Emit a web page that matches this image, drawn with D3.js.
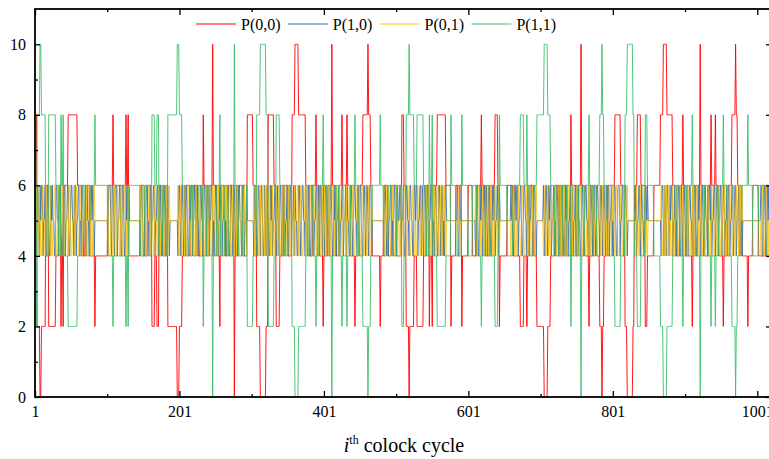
<!DOCTYPE html>
<html lang="en">
<head>
  <meta charset="UTF-8" />
  <title>P(x,y) per clock cycle</title>
  <script src="https://d3js.org/d3.v7.min.js"></script>
  <style>
    body { margin: 0; background: #fff; }
    svg { display: block; }
    svg text { font-family: "Liberation Serif", "Times New Roman", Tinos, "DejaVu Serif", serif !important; }
    .line { fill: none; stroke-width: 1px; }
    .tick line { stroke: #000; stroke-width: 1.3px; }
    .tick text { font-size: 16px; fill: #000; }
  </style>
</head>
<body>

<svg width="769" height="459"></svg>

<script>
  // ---- data ----
  const seriesNames = ["P(0,0)", "P(1,0)", "P(0,1)", "P(1,1)"];
  const seriesColors = ["#ff0000", "#3a6ea6", "#ffc000", "#3ebf6c"];

  // P(0,0) as [value, run length] per clock cycle
  const p00Runs = [
    [8,3],[2,4],[0,2],[2,6],[6,4],[2,10],[4,4],[6,3],[2,1],[4,2],[2,1],[6,6],[8,13],[6,6],[4,5],[6,6],[4,7],[2,1],[4,17],[6,7],[8,1],[6,17],[8,1],[6,2],[8,1],[4,16],[6,6],[4,4],[6,6],[2,4],[4,3],[2,3],[6,5],[4,4],[6,3],[2,13],[0,3],[2,4],
    [4,5],[6,6],[4,4],[6,7],[4,7],[8,1],[6,4],[4,4],[6,4],[10,1],[6,5],[4,4],[2,1],[6,6],[4,5],[6,8],[0,1],[4,5],[6,6],[4,6],[8,8],[6,5],[2,5],[0,8],[2,3],[8,8],[6,3],[2,5],
    [4,6],[6,5],[4,6],[8,4],[10,5],[8,10],[6,5],[4,5],[6,4],[8,1],[6,4],[4,5],[2,1],[4,5],[6,6],[10,1],[6,5],[4,4],[6,4],[8,1],[6,6],[8,1],[6,4],[4,6],[2,1],[4,4],[6,6],[8,7],[10,1],[8,3],[6,2],[4,11],[2,1],
    [4,4],[6,6],[4,5],[6,7],[4,7],[8,3],[6,3],[2,4],[0,1],[2,6],[4,4],[2,9],[4,4],[6,4],[2,1],[4,3],[2,1],[6,6],[8,12],[6,7],[2,1],[4,6],[6,8],[2,1],[4,8],[6,6],[4,6],[6,6],[8,1],[6,5],[4,6],[6,7],[8,4],[6,2],[2,1],
    [4,10],[6,8],[4,10],[2,5],[4,4],[2,1],[4,3],[6,6],[4,4],[2,10],[0,5],[2,4],[4,6],[6,6],[4,5],[6,5],[4,6],[8,1],[6,6],[4,4],[6,3],[10,1],[6,4],[4,6],[2,1],[4,5],[6,5],[4,4],[2,3],[0,1],[2,2],[4,5],[6,10],
    [8,8],[6,6],[2,3],[0,8],[2,2],[6,4],[8,5],[6,6],[2,3],[4,9],[6,9],[8,4],[10,5],[8,8],[6,5],[4,5],[6,4],[8,1],[6,4],[4,8],[2,1],[4,4],[6,6],[10,1],[6,5],[4,5],[6,4],[8,1],[6,5],[8,1],[6,4],[4,6],[2,1],[4,5],[6,6],[8,5],[10,1],[8,2],[6,6],[4,8],[2,1],[4,6],[6,8],[4,10],[6,6],[4,4],[6,2]
  ];

  // P(1,1) as [value, run length]
  const p11Runs = [
    [2,3],[8,4],[10,2],[8,6],[4,4],[8,10],[6,4],[4,3],[8,1],[6,2],[8,1],[4,6],[2,13],[4,6],[6,5],[4,6],[6,7],[8,1],[6,17],[4,7],[2,1],[4,17],[2,1],[4,2],[2,1],[6,16],[4,6],[6,4],[4,6],[8,4],[6,3],[8,3],[4,5],[6,4],[4,3],[8,13],[10,3],[8,4],
    [6,5],[4,6],[6,4],[4,7],[6,7],[2,1],[4,4],[6,4],[4,4],[0,1],[4,5],[6,4],[8,1],[4,6],[6,5],[4,8],[10,1],[6,5],[4,6],[6,6],[2,8],[4,5],[8,5],[10,8],[8,3],[2,8],[4,3],[8,5],
    [6,6],[4,5],[6,6],[2,4],[0,5],[2,10],[4,5],[6,5],[4,4],[2,1],[4,4],[6,5],[8,1],[6,5],[4,6],[0,1],[4,5],[6,4],[4,4],[2,1],[4,6],[2,1],[4,4],[6,6],[8,1],[6,4],[4,6],[2,7],[0,1],[2,3],[4,2],[6,11],[8,1],
    [6,4],[4,6],[6,5],[4,7],[6,7],[2,3],[4,3],[8,4],[10,1],[8,6],[6,4],[8,9],[6,4],[4,4],[8,1],[6,3],[8,1],[4,6],[2,12],[4,7],[8,1],[6,6],[4,8],[8,1],[6,8],[4,6],[6,6],[4,6],[2,1],[4,5],[6,6],[4,7],[2,4],[4,2],[8,1],
    [6,10],[4,8],[6,10],[8,5],[6,4],[8,1],[6,3],[4,6],[6,4],[8,10],[10,5],[8,4],[6,6],[4,6],[6,5],[4,5],[6,6],[2,1],[4,6],[6,4],[4,3],[0,1],[4,4],[6,6],[8,1],[6,5],[4,5],[6,4],[8,3],[10,1],[8,2],[6,5],[4,10],
    [2,8],[4,6],[8,3],[10,8],[8,2],[4,4],[2,5],[4,6],[8,3],[6,9],[4,9],[2,4],[0,5],[2,8],[4,5],[6,5],[4,4],[2,1],[4,4],[6,8],[8,1],[6,4],[4,6],[0,1],[4,5],[6,5],[4,4],[2,1],[4,5],[2,1],[4,4],[6,6],[8,1],[6,5],[4,6],[2,5],[0,1],[2,2],[4,6],[6,8],[8,1],[6,6],[4,8],[6,10],[4,6],[6,4],[4,2]
  ];

  // P(1,0), one digit per clock cycle, 64 cycles per string
  const p10Digits = [
    "6546654656645564466544656554466554665446664556644566554664556645",
    "5664556465544665654555555555555555555466654665466645566446654465",
    "6465555555555555554665444566554664556645566455645466544665455555",
    "5555554665466546466544656645566465544665546654466455664545665546",
    "5664556454665446654665464566554666455655555555546554466546654465",
    "4665446564556645654665466645566456645564655446654566554654665446",
    "6645566465466546546654464665446564556645566455646554466545665546",
    "5466544665466546664555555555555555546654645566454665446556645564",
    "4566554665544665664556646546654664556645546654466546645466555555",
    "5555555556446555555555555555555555466544656546654654665446566455",
    "6546555555555555555655446656645566445665546645566456654555555555",
    "6546654656645564546654464665446566455664645566456554466545665546",
    "4665446545665546654665465664556454665446664556644665455555555555",
    "6455664565544665655555555555555555546654654665465664556454665446",
    "5466544645665546466544656546654665544665645566456645566456645564",
    "6645566456645564645455555555555555555555555556644665446565466546"
  ];

  // P(0,1), one digit per clock cycle, 64 cycles per string
  const p01Digits = [
    "4564456454465546644566454556644556445664446554466544556446554465",
    "5446554645566445456555555555555555555644456445644465544664456645",
    "4645555555555555556445666544556446554465544655465644566445655555",
    "5555556445644564644566454465544645566445564456644655446565445564",
    "5446554656445664456445646544556444655455555555564556644564456645",
    "6445664546554465456445644465544654465546455664456544556456445664",
    "4465544645644564564456646445664546554465544655464556644565445564",
    "5644566445644564446555555555555555564456465544656445664554465546",
    "6544556445566445446554464564456446554465564456644564465644555555",
    "5555555554664555555555555555555555644566454564456456445664544655",
    "4564555555555555555455664454465544665445564465544654456555555555",
    "4564456454465546564456646445664544655446465544654556644565445564",
    "6445664565445564456445645446554656445664446554466445655555555555",
    "4655446545566445455555555555555555564456456445645446554656445664",
    "5644566465445564644566454564456445566445465544654465544654465546",
    "4465544654465546465655555555555555555555555554466445664545644564"
  ];

  const xMajorTicks = [1, 201, 401, 601, 801, 1001];
  const xMinorTicks = [101, 301, 501, 701, 901];
  const yMajorTicks = [0, 2, 4, 6, 8, 10];
  const yMinorTicks = [1, 3, 5, 7, 9];

  // ---- expand the stored series ----
  function fromRuns(runs) {
    const out = [];
    runs.forEach(([v, n]) => { for (let k = 0; k < n; k++) out.push(v); });
    return out;
  }
  function fromDigits(chunks) {
    return chunks.join("").split("").map(Number);
  }

  const seriesValues = [fromRuns(p00Runs), fromDigits(p10Digits), fromDigits(p01Digits), fromRuns(p11Runs)];
  const series = seriesNames.map((name, i) => ({
    name,
    color: seriesColors[i],
    values: seriesValues[i].map((v, j) => ({cycle: j + 1, val: v}))
  }));

  // ---- layout ----
  const svg = d3.select("svg");
  const plot = {left: 35, right: 771, top: 9, bottom: 397};

  const x = d3.scaleLinear().domain([1, 1020]).range([plot.left, plot.right]);
  const y = d3.scaleLinear().domain([0, 11]).range([plot.bottom, plot.top]);

  svg.append("clipPath").attr("id", "clip")
    .append("rect")
    .attr("x", plot.left).attr("y", plot.top)
    .attr("width", plot.right - plot.left).attr("height", plot.bottom - plot.top);

  const lineGen = d3.line()
    .x(d => x(d.cycle))
    .y(d => y(d.val));

  const lines = svg.append("g").attr("clip-path", "url(#clip)");
  lines.selectAll("path")
    .data(series)
    .enter()
    .append("path")
    .attr("class", "line")
    .attr("d", d => lineGen(d.values))
    .attr("stroke", d => d.color)
    .attr("stroke-opacity", d => d.name === "P(0,1)" ? 0.75 : 0.9);

  // axes (ticks point inward)
  function axisGroup(tx, ty, axis) {
    return svg.append("g")
      .attr("transform", `translate(${tx},${ty})`)
      .call(axis)
      .attr("font-size", 16)
      .call(g => g.select(".domain").remove());
  }

  axisGroup(0, plot.bottom, d3.axisBottom(x).tickValues(xMajorTicks).tickSize(-6).tickPadding(9).tickFormat(d3.format("d")));
  axisGroup(0, plot.bottom, d3.axisBottom(x).tickValues(xMinorTicks).tickSize(-3).tickFormat(""));
  axisGroup(0, plot.top, d3.axisTop(x).tickValues(xMajorTicks).tickSize(-6).tickFormat(""));
  axisGroup(0, plot.top, d3.axisTop(x).tickValues(xMinorTicks).tickSize(-3).tickFormat(""));

  axisGroup(plot.left, 0, d3.axisLeft(y).tickValues(yMajorTicks).tickSize(-5).tickPadding(9));
  axisGroup(plot.left, 0, d3.axisLeft(y).tickValues(yMinorTicks).tickSize(-3).tickFormat(""));
  axisGroup(plot.right, 0, d3.axisRight(y).tickValues(yMajorTicks).tickSize(-5).tickFormat(""));

  // frame
  svg.append("rect")
    .attr("x", plot.left).attr("y", plot.top)
    .attr("width", plot.right - plot.left).attr("height", plot.bottom - plot.top)
    .attr("fill", "none")
    .attr("stroke", "#000")
    .attr("stroke-width", 1.8);

  // axis title
  const title = svg.append("text")
    .attr("x", 404)
    .attr("y", 452)
    .attr("text-anchor", "middle")
    .style("font-size", "20px");
  title.append("tspan").style("font-style", "italic").text("i");
  title.append("tspan").attr("dy", -8).style("font-size", "12px").text("th");
  title.append("tspan").attr("dy", 8).text(" colock cycle");

  // legend
  const legend = svg.append("g");
  const items = legend.selectAll("g")
    .data(series)
    .enter()
    .append("g")
    .attr("transform", (d, i) => `translate(${196 + i * 91.8},24)`);
  items.append("line")
    .attr("x1", 0).attr("x2", 40)
    .attr("stroke", d => d.color)
    .attr("stroke-width", 1.2);
  items.append("text")
    .attr("x", 45)
    .attr("y", 6)
    .style("font-size", "16px")
    .text(d => d.name);
</script>

</body>
</html>
